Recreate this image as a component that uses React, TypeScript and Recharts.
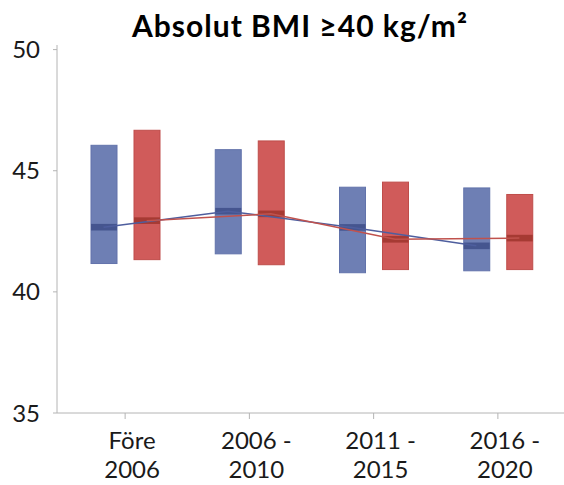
import { ComposedChart, Bar, Line, XAxis, YAxis } from "recharts"

const categories = ["Före\n2006", "2006 -\n2010", "2011 -\n2015", "2016 -\n2020"]
const yTicks = [35, 40, 45, 50]

// blue group (box low/high + median)
const blueLow = [41.17, 41.57, 40.79, 40.87]
const blueHigh = [46.05, 45.87, 44.32, 44.29]
const blueMedian = [42.67, 43.33, 42.66, 41.9]

// red group
const redLow = [41.33, 41.12, 40.92, 40.92]
const redHigh = [46.67, 46.23, 44.53, 44.02]
const redMedian = [42.94, 43.22, 42.17, 42.22]

const W = 564
const H = 485
const Y_W = 57
const PAD_L = 6
const PAD_R = 4
const BAR_SIZE = 26
const BAR_GAP = 17
const BAND = (W - Y_W - PAD_L - PAD_R) / categories.length
const OFFSET = (BAR_SIZE + BAR_GAP) / 2 / BAND

const FONT = "Lato, 'Open Sans', sans-serif"

const rows = categories.map((c, i) => ({
  label: c,
  blue: [blueLow[i], blueHigh[i]],
  red: [redLow[i], redHigh[i]],
  blueMed: blueMedian[i],
  redMed: redMedian[i],
}))

const blueLine = blueMedian.map((v, i) => ({ x: i + 1 - OFFSET, v }))
const redLine = redMedian.map((v, i) => ({ x: i + 1 + OFFSET, v }))

function makeBox(fill: string, stroke: string, medFill: string, key: "blue" | "red") {
  return (props: any) => {
    const { x, y, width, height, payload } = props
    const [lo, hi] = payload[key]
    const med = key === "blue" ? payload.blueMed : payload.redMed
    const my = y + ((hi - med) / (hi - lo)) * height
    return (
      <g>
        <rect x={x} y={y} width={width} height={height} fill={fill} stroke={stroke} strokeWidth={1} />
        <rect x={x} y={my - 3.3} width={width} height={6.6} fill={medFill} />
      </g>
    )
  }
}

function XTick(props: any) {
  const { x, y, payload } = props
  const lines = String(payload.value).split("\n")
  return (
    <text x={x + 7} y={y} textAnchor="middle" fill="#1a1a1a" fontSize={24} fontFamily={FONT}>
      {lines.map((l, i) => (
        <tspan key={i} x={x + 7} dy={i === 0 ? 28 : 29}>
          {l}
        </tspan>
      ))}
    </text>
  )
}

export default function App() {
  return (
    <div style={{ position: "absolute", left: 0, top: 0, width: W, height: H, background: "#fff" }}>
      <div
        style={{
          position: "absolute",
          left: 0,
          top: 7,
          width: 600,
          textAlign: "center",
          fontFamily: FONT,
          fontWeight: 700,
          fontSize: 30,
          letterSpacing: 1,
          lineHeight: "36px",
          color: "#000",
        }}
      >
        Absolut BMI ≥40 kg/m²
      </div>
      <ComposedChart
        width={W}
        height={H}
        data={rows}
        margin={{ top: 45, right: 0, bottom: 0, left: 0 }}
        barSize={BAR_SIZE}
        barGap={BAR_GAP}
      >
        <XAxis
          dataKey="label"
          height={72}
          padding={{ left: PAD_L, right: PAD_R }}
          axisLine={{ stroke: "#b4b4b4" }}
          tickLine={{ stroke: "#b4b4b4" }}
          tickSize={6}
          tickMargin={2}
          tick={<XTick />}
          interval={0}
        />
        <XAxis
          xAxisId="num"
          type="number"
          dataKey="x"
          orientation="top"
          domain={[0.5, 4.5]}
          allowDataOverflow
          padding={{ left: PAD_L, right: PAD_R }}
          height={0}
          tick={false}
          tickLine={false}
          axisLine={{ stroke: "#b4b4b4" }}
        />
        <YAxis
          width={Y_W}
          domain={[35, 50.19]}
          ticks={yTicks}
          allowDataOverflow
          axisLine={{ stroke: "#b4b4b4" }}
          tickLine={{ stroke: "#b4b4b4" }}
          tickSize={4}
          tickMargin={13}
          tick={{ fill: "#1a1a1a", fontSize: 24, fontFamily: FONT }}
        />
        <Bar
          dataKey="blue"
          isAnimationActive={false}
          shape={makeBox("#6e7fb4", "#6273ab", "#45558f", "blue")}
        />
        <Bar
          dataKey="red"
          isAnimationActive={false}
          shape={makeBox("#d05b5a", "#bf4d4a", "#a63a33", "red")}
        />
        <Line
          xAxisId="num"
          data={blueLine}
          dataKey="v"
          type="linear"
          stroke="#4e5e9e"
          strokeWidth={1.5}
          dot={false}
          isAnimationActive={false}
        />
        <Line
          xAxisId="num"
          data={redLine}
          dataKey="v"
          type="linear"
          stroke="#c0524d"
          strokeWidth={1.5}
          dot={false}
          isAnimationActive={false}
        />
      </ComposedChart>
    </div>
  )
}
